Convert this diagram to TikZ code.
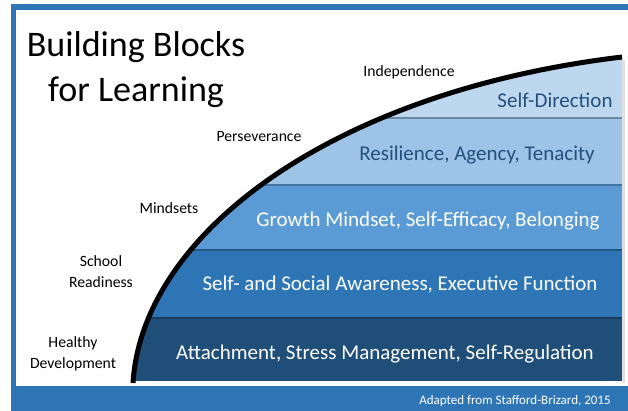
\documentclass[tikz,border=0pt]{standalone}
\usepackage{fontspec}
\setmainfont{Carlito}
\usepackage{xcolor}
\usetikzlibrary{positioning}
\definecolor{frameblue}{HTML}{2E75B6}
\definecolor{bandA}{HTML}{1F4E79}
\definecolor{bandB}{HTML}{2E75B6}
\definecolor{bandC}{HTML}{5B9BD5}
\definecolor{bandD}{HTML}{9DC3E6}
\definecolor{bandE}{HTML}{BDD7EE}
\definecolor{darktext}{HTML}{24507E}

\tikzset{
    titletext/.style={font=\fontsize{36}{43}\selectfont, anchor=base, inner sep=0pt},
    stage/.style={font=\fontsize{15.7}{21}\selectfont, align=center, inner sep=0pt},
    block/.style={font=\fontsize{21}{25}\selectfont, inner sep=0pt},
}

\begin{document}
\begin{tikzpicture}[x=1pt, y=-1pt]
    \useasboundingbox (0,0) rectangle (628,411);

    % Rahmen
    \fill[white] (0,0) rectangle (628,411);
    \fill[frameblue] (11,4) rectangle (628,10);
    \fill[frameblue] (11,4) rectangle (16,411);
    \fill[frameblue] (11,386) rectangle (628,411);

    % Titel
    \node[titletext] (title1) at (136,57) {Building Blocks};
    \node[titletext] (title2) at (136,102) {for Learning};

    % Stufen unter der Kurve
    \fill[black!12] (622,60) rectangle (625,383);
    \begin{scope}
        \clip (133,383) .. controls (142,235) and (330,92) .. (622,57) -- (622,381) -- cycle;
        \fill[bandE] (100,40) rectangle (622,118);
        \fill[bandD] (100,118) rectangle (622,185);
        \fill[bandC] (100,185) rectangle (622,250);
        \fill[bandB] (100,250) rectangle (622,318);
        \fill[bandA] (100,318) rectangle (622,381);
        \draw[bandD!70!black, line width=1.5pt] (100,118) -- (622,118);
        \draw[bandC!75!black, line width=1.5pt] (100,185) -- (622,185);
        \draw[bandB!75!black, line width=1.5pt] (100,250) -- (622,250);
        \draw[bandA!80!black, line width=1.5pt] (100,318) -- (622,318);
    \end{scope}

    % Kurve
    \draw[line width=5pt] (133,383) .. controls (142,235) and (330,92) .. (622,57);

    % Texte in den Stufen
    \node[block, darktext] (selfdir) at (555,100) {Self-Direction};
    \node[block, darktext] (resil) at (477,155) {Resilience, Agency, Tenacity};
    \node[block, white] (growth) at (428,221) {Growth Mindset, Self-Efficacy, Belonging};
    \node[block, white] (aware) at (400,285) {Self- and Social Awareness, Executive Function};
    \node[block, white] (attach) at (385,354) {Attachment, Stress Management, Self-Regulation};

    % Beschriftung links der Kurve
    \node[stage] (indep) at (409,72) {Independence};
    \node[stage] (persev) at (259,137) {Perseverance};
    \node[stage] (mind) at (169,208) {Mindsets};
    \node[stage] (school) at (101,272) {School\\Readiness};
    \node[stage] (health) at (73,354) {Healthy\\Development};

    % Quelle
    \node[font=\fontsize{13}{15}\selectfont, white, inner sep=0pt] (source) at (515,401) {Adapted from Stafford-Brizard, 2015};
\end{tikzpicture}
\end{document}
